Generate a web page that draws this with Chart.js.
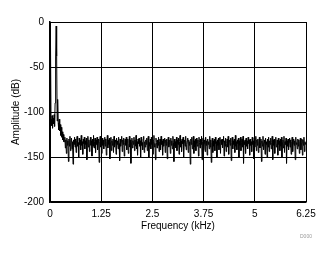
<!DOCTYPE html>
<html>
<head>
<meta charset="utf-8">
<script src="https://cdn.jsdelivr.net/npm/chart.js@4"></script>
<style>
  body { margin: 0; background: #fff; }
  #wrap { position: relative; width: 334px; height: 254px; }
  #code { position: absolute; left: 300px; top: 233px; font: 5px "Liberation Sans", Arial, sans-serif; color: #999; }
</style>
</head>
<body>
<div id="wrap">
  <canvas id="grafico" width="334" height="254"></canvas>
  <div id="code">D000</div>
</div>
<script>
// FFT amplitude (dB), one sample every 0.0125 kHz from 0 to 6.25 kHz
const passoFreq = 0.0125;
const amplitude = [
  -105, -25, -108, -115, -104, -118, -107, -113, -103, -116, -90, -40, -4.5, -38, -110, -86,
  -112, -120, -108, -121, -114, -126, -117, -128, -122, -131, -125, -133,
  -133, -128, -140, -131, -146, -129, -137, -132, -155, -130, -138, -127, -143, -134, -129, -141, -133, -158, -131, -136,
  -128, -139, -130, -145, -132, -127, -138, -134, -150, -129, -136, -131, -142, -126, -137, -133, -147, -130, -135, -128,
  -141, -132, -136, -129, -153, -134, -127, -139, -131, -144, -135, -128, -137, -132, -149, -130, -138, -126, -140, -133,
  -129, -145, -131, -136, -128, -142, -134, -130, -156, -133, -127, -139, -132, -146, -129, -137, -131, -141, -135, -128,
  -138, -130, -148, -133, -126, -140, -131, -136, -129, -152, -134, -128, -143, -132, -137, -130, -145, -127, -139, -133,
  -131, -147, -129, -136, -132, -141, -128, -135, -154, -130, -138, -133, -127, -144, -131, -136, -129, -149, -134, -130,
  -137, -128, -142, -133, -130, -146, -135, -127, -139, -131, -157, -134, -129, -140, -132, -136, -128, -143, -131, -138,
  -126, -141, -133, -148, -130, -135, -129, -138, -132, -151, -128, -137, -134, -142, -130, -127, -145, -133, -139, -131,
  -136, -129, -143, -132, -127, -150, -134, -138, -130, -141, -128, -136, -133, -147, -131, -126, -139, -135, -153, -129,
  -134, -140, -131, -137, -128, -144, -133, -130, -142, -127, -136, -132, -148, -130, -138, -134, -129, -145, -131, -137,
  -130, -152, -133, -128, -139, -135, -131, -146, -129, -137, -132, -141, -127, -134, -155, -130, -138, -133, -140, -128,
  -143, -131, -136, -129, -147, -133, -126, -139, -132, -144, -130, -135, -128, -150, -134, -131, -138, -127, -142, -136,
  -132, -129, -145, -131, -137, -133, -158, -130, -136, -128, -141, -134, -127, -146, -132, -139, -130, -143, -129, -135,
  -138, -131, -149, -128, -134, -140, -130, -136, -127, -153, -133, -129, -142, -135, -131, -144, -128, -137, -132, -148,
  -130, -136, -133, -141, -127, -139, -131, -156, -134, -129, -145, -132, -138, -130, -143, -128, -135, -133, -151, -131,
  -137, -129, -142, -134, -128, -146, -131, -136, -130, -140, -133, -127, -149, -132, -138, -129, -144, -135, -130, -139,
  -127, -147, -133, -131, -137, -129, -154, -134, -128, -141, -132, -136, -130, -145, -126, -138, -133, -142, -131, -135,
  -129, -150, -132, -137, -128, -143, -134, -130, -139, -127, -157, -133, -136, -131, -146, -129, -138, -132, -141, -128,
  -135, -131, -148, -130, -137, -133, -144, -128, -136, -132, -152, -129, -139, -134, -127, -143, -131, -137, -130, -145,
  -133, -128, -140, -135, -130, -155, -132, -138, -127, -142, -134, -131, -147, -129, -136, -133, -150, -130, -139, -128,
  -144, -132, -136, -129, -141, -134, -127, -153, -131, -137, -130, -146, -133, -128, -139, -135, -131, -148, -129, -136,
  -132, -143, -130, -138, -128, -151, -134, -131, -140, -127, -145, -133, -136, -129, -157, -132, -138, -130, -142, -134,
  -129, -139, -131, -147, -133, -128, -144, -135, -130, -137, -132, -153, -128, -136, -134, -141, -130, -138, -131, -146,
  -133, -129, -142, -135, -130, -148, -131, -137, -128, -144, -133, -136, -134
];
const ticksX = [0, 1.25, 2.5, 3.75, 5, 6.25];
const ticksY = [0, -50, -100, -150, -200];

const fonte = { family: '"Liberation Sans", Arial, sans-serif', size: 10 };
const pontos = amplitude.map((v, i) => ({ x: i * passoFreq, y: v }));

new Chart(document.getElementById('grafico'), {
    type: 'line',
    data: {
        datasets: [{
            data: pontos,
            borderColor: '#000',
            borderWidth: 1,
            pointRadius: 0,
            tension: 0
        }]
    },
    options: {
        responsive: false,
        animation: false,
        events: [],
        layout: { padding: { top: 22, right: 28, left: 0, bottom: 0 } },
        plugins: { legend: { display: false }, tooltip: { enabled: false } },
        scales: {
            x: {
                type: 'linear',
                min: 0,
                max: 6.25,
                afterBuildTicks: s => { s.ticks = ticksX.map(v => ({ value: v })); },
                afterFit: s => { s.height = 52; },
                grid: { color: '#000', lineWidth: 1, drawTicks: false },
                border: { color: '#000', width: 1.5 },
                ticks: { color: '#000', font: fonte, padding: 6, maxRotation: 0, callback: v => String(v) },
                title: { display: true, text: 'Frequency (kHz)', color: '#000', font: fonte, padding: { top: 0, bottom: 22 } }
            },
            y: {
                min: -200,
                max: 0,
                afterBuildTicks: s => { s.ticks = ticksY.map(v => ({ value: v })); },
                afterFit: s => { s.width = 50; },
                grid: { color: '#000', lineWidth: 1, drawTicks: false },
                border: { color: '#000', width: 1.5 },
                ticks: { color: '#000', font: fonte, padding: 6, callback: v => String(v) },
                title: { display: true, text: 'Amplitude (dB)', color: '#000', font: fonte, padding: { top: 10, bottom: 0 } }
            }
        }
    }
});
</script>
</body>
</html>
